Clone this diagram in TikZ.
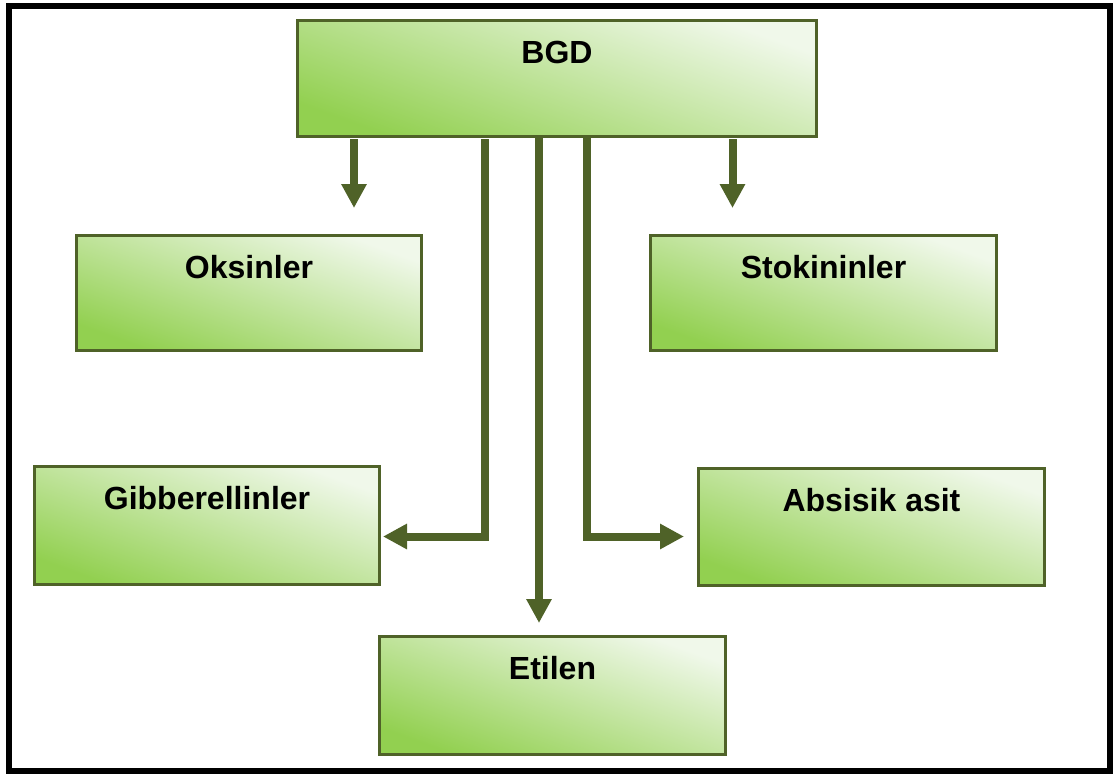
\documentclass[tikz,border=0pt]{standalone}
\usepackage{fontspec}
\setmainfont{Liberation Sans}
\usetikzlibrary{arrows.meta}
\definecolor{boxline}{HTML}{4F6228}
\definecolor{gdark}{HTML}{92D050}
\definecolor{glight}{HTML}{F0F8EA}
\tikzset{
  box/.style={draw=boxline, line width=3pt, bottom color=gdark, top color=glight,
    shading angle=-20, anchor=north west, inner sep=0pt, text height=43pt,
    font=\fontsize{32}{38}\selectfont\bfseries},
  arr/.style={draw=boxline, line width=8pt, line cap=butt,
    -{Triangle[width=24pt,length=24pt]}},
}
\begin{document}
\begin{tikzpicture}[x=1pt,y=-1pt]
\useasboundingbox (0,0) rectangle (1114,774);
\draw[line width=6pt] (9,5.5) rectangle (1110,770.5);
% boxes
\node[box, minimum width=519pt, text depth=73pt] (bgd) at (296,19) {BGD};
\node[box, minimum width=345pt, text depth=72pt] (oks) at (75,234) {Oksinler};
\node[box, minimum width=346pt, text depth=72pt] (sto) at (649,234) {Stokininler};
\node[box, minimum width=345pt, text depth=75pt] (gib) at (33,465) {Gibberellinler};
\node[box, minimum width=346pt, text depth=74pt] (abs) at (697,467) {Absisik asit};
\node[box, minimum width=346pt, text depth=75pt] (eti) at (378,635) {Etilen};
% connector ends
\coordinate (s1) at (354,139);
\coordinate (e1) at (354,208);
\coordinate (s2) at (732.5,139);
\coordinate (e2) at (732.5,208);
\coordinate (s3) at (484.5,139);
\coordinate (k3) at (484.5,536.5);
\coordinate (e3) at (383,536.5);
\coordinate (s4) at (bgd.south -| 539,0);
\coordinate (e4) at (539,623);
\coordinate (s5) at (bgd.south -| 587,0);
\coordinate (k5) at (587,536.5);
\coordinate (e5) at (684,536.5);
% connectors
\draw[arr] (s1) -- (e1);
\draw[arr] (s2) -- (e2);
\draw[arr] (s3) -- (k3) -- (e3);
\draw[arr] (s4) -- (e4);
\draw[arr] (s5) -- (k5) -- (e5);
\end{tikzpicture}
\end{document}
